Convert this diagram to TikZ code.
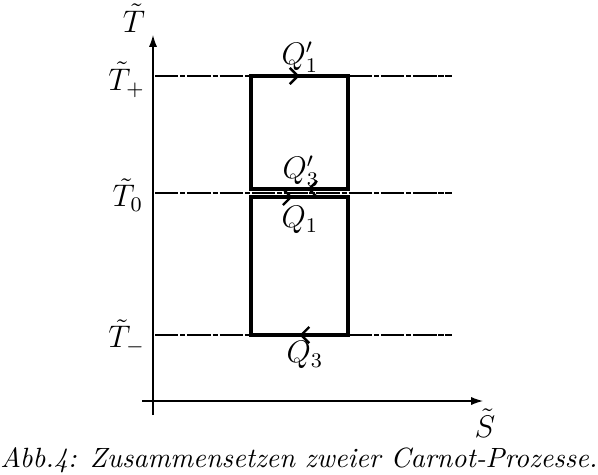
\documentclass[tikz,border=0pt]{standalone}
\usetikzlibrary{arrows.meta,decorations.markings}

\begin{document}
\begin{tikzpicture}[x=0.0135cm,y=-0.0135cm,font=\large,
    axis/.style={-{Latex[length=1.6mm,width=1.1mm]},line width=0.5pt},
    level/.style={line width=0.4pt,dash pattern=on 9pt off 0.7pt on 2pt off 0.7pt},
    cycle/.style={line width=1.5pt,line join=miter},
    flowat/.style={postaction={decorate},decoration={markings,
      mark=at position #1 with {\arrow{Straight Barb[length=1.1mm,width=2.2mm,line width=0.9pt]}}}},
    lbl/.style={inner sep=1pt}]
  \useasboundingbox (0,0) rectangle (598,474);
  % axes
  \coordinate (o) at (153,401);
  \coordinate (yb) at (153,415);
  \coordinate (yt) at (153,35);
  \coordinate (xl) at (142,401);
  \coordinate (xr) at (483,401);
  \draw[axis] (yb) -- (yt);
  \draw[axis] (xl) -- (xr);
  \node[lbl] (tax) at (134,18) {$\tilde T$};
  \node[lbl] (sax) at (485,423) {$\tilde S$};
  % temperature levels
  \node[lbl,anchor=east] (tp) at (148,80) {$\tilde T_{+}$};
  \node[lbl,anchor=east] (tz) at (146,195) {$\tilde T_{0}$};
  \node[lbl,anchor=east] (tm) at (148,337) {$\tilde T_{-}$};
  \coordinate (tpa) at (155,76);  \coordinate (tpb) at (452,76);
  \coordinate (tza) at (155,193); \coordinate (tzb) at (452,193);
  \coordinate (tma) at (155,335); \coordinate (tmb) at (452,335);
  \draw[level] (tpa) -- (tpb);
  \draw[level] (tza) -- (tzb);
  \draw[level] (tma) -- (tmb);
  % upper cycle
  \coordinate (u1) at (251,76);  \coordinate (u2) at (348,76);
  \coordinate (u3) at (348,189); \coordinate (u4) at (251,189);
  \draw[cycle] (u4) -- (u1) -- (u2) -- (u3) -- (u4) -- cycle;
  \draw[cycle,flowat=0.5] (u1) -- (u2);
  \draw[cycle,flowat=0.42] (u3) -- (u4);
  % lower cycle
  \coordinate (l1) at (251,197); \coordinate (l2) at (348,197);
  \coordinate (l3) at (348,335); \coordinate (l4) at (251,335);
  \draw[cycle] (l4) -- (l1) -- (l2) -- (l3) -- (l4) -- cycle;
  \draw[cycle,flowat=0.43] (l1) -- (l2);
  \draw[cycle,flowat=0.5] (l3) -- (l4);
  % heat labels
  \node[lbl] (q1p) at (300,57) {$Q_1'$};
  \node[lbl] (q3p) at (301,171) {$Q_3'$};
  \node[lbl] (q1) at (300,220) {$Q_1$};
  \node[lbl] (q3) at (305,355) {$Q_3$};
  % caption
  \node[lbl,font=\fontsize{10.7}{13}\selectfont] (cap) at (299,460) {\itshape Abb.4: Zusammensetzen zweier Carnot-Prozesse.};
\end{tikzpicture}
\end{document}
